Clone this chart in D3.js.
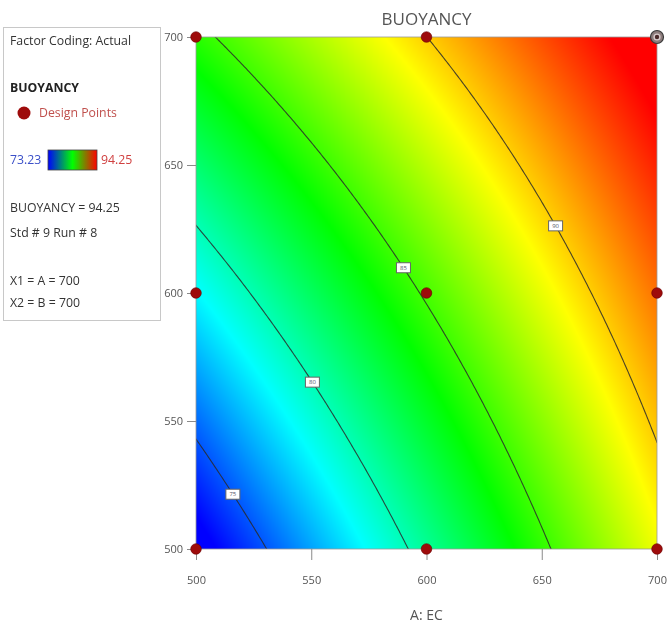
<!DOCTYPE html>
<html>
<head>
<meta charset="utf-8">
<script src="https://cdn.jsdelivr.net/npm/d3@7"></script>
<style>
  html, body { margin: 0; padding: 0; background: #fff; }
  #wrap { position: relative; width: 668px; height: 626px; overflow: hidden; }
  #wrap canvas, #wrap svg { position: absolute; left: 0; top: 0; }
  text { font-family: "Open Sans", "Noto Sans", sans-serif; }
</style>
</head>
<body>
<div id="wrap"></div>
<script>
// ---------------- data ----------------
const chartTitle = "BUOYANCY";
const xTitle = "A: EC";
const xTicks = [500, 550, 600, 650, 700];
const yTicks = [500, 550, 600, 650, 700];
const factorRange = [500, 700];
// quadratic model in coded units
const coefNames = ["Intercept", "A", "B", "AB", "A2", "B2"];
const coefValues = [85.2, 6.75, 4.675, -1.35, -0.05, 0.115];
const legendRange = [73.23, 94.25];
const contourLevels = [75, 80, 85, 90];
const contourLabelA = [516, 550.5, 590, 656];
const designA = [500, 600, 700, 500, 600, 700, 500, 600, 700];
const designB = [500, 500, 500, 600, 600, 600, 700, 700, 700];
const selectedPoint = [700, 700];
const legendLines = ["BUOYANCY = 94.25", "Std # 9 Run # 8", "X1 = A = 700", "X2 = B = 700"];

// ---------------- layout ----------------
const W = 668, H = 626;
const plot = { left: 196, top: 37, right: 657, bottom: 549 };
const pw = plot.right - plot.left, ph = plot.bottom - plot.top;

const x = d3.scaleLinear().domain(factorRange).range([plot.left, plot.right]);
const y = d3.scaleLinear().domain(factorRange).range([plot.bottom, plot.top]);

const mid = (factorRange[0] + factorRange[1]) / 2, half = (factorRange[1] - factorRange[0]) / 2;
function model(A, B) {
  const a = (A - mid) / half, b = (B - mid) / half;
  const c = coefValues;
  return c[0] + c[1] * a + c[2] * b + c[3] * a * b + c[4] * a * a + c[5] * b * b;
}

const lo = legendRange[0], hi = legendRange[1], st = (hi - lo) / 4;
const color = d3.scaleLinear()
  .domain([lo, lo + st, lo + 2 * st, lo + 3 * st, hi])
  .range(["#0000ff", "#00ffff", "#00ff00", "#ffff00", "#ff0000"])
  .clamp(true);

const wrap = d3.select("#wrap");

// ---------- filled surface on canvas ----------
const canvas = wrap.append("canvas").attr("width", W).attr("height", H).node();
const ctx = canvas.getContext("2d");
ctx.fillStyle = "#fff"; ctx.fillRect(0, 0, W, H);
const img = ctx.createImageData(pw, ph);
for (let py = 0; py < ph; py++) {
  const B = y.invert(plot.top + py + 0.5);
  for (let px = 0; px < pw; px++) {
    const A = x.invert(plot.left + px + 0.5);
    const c = d3.rgb(color(model(A, B)));
    const k = (py * pw + px) * 4;
    img.data[k] = c.r; img.data[k + 1] = c.g; img.data[k + 2] = c.b; img.data[k + 3] = 255;
  }
}
ctx.putImageData(img, plot.left, plot.top);

// ---------- svg overlay ----------
const svg = wrap.append("svg").attr("width", W).attr("height", H);
const defs = svg.append("defs");
defs.append("clipPath").attr("id", "clip")
  .append("rect").attr("x", plot.left).attr("y", plot.top).attr("width", pw).attr("height", ph);

// contour lines
const nx = 201, ny = 201;
const grid = new Array(nx * ny);
const gA = d3.scaleLinear().domain([0, nx - 1]).range(factorRange);
const gB = d3.scaleLinear().domain([0, ny - 1]).range(factorRange);
for (let j = 0; j < ny; j++) for (let i = 0; i < nx; i++) grid[j * nx + i] = model(gA(i), gB(j));
const contours = d3.contours().size([nx, ny]).thresholds(contourLevels)(grid);
const proj = d3.geoTransform({
  point: function (gx, gy) { this.stream.point(x(gA(gx - 0.5)), y(gB(gy - 0.5))); }
});
const path = d3.geoPath(proj);
svg.append("g").attr("clip-path", "url(#clip)")
  .selectAll("path").data(contours).join("path")
  .attr("d", path).attr("fill", "none")
  .attr("stroke", "#2a2a2a").attr("stroke-opacity", 0.85).attr("stroke-width", 1.1);

// contour labels
function solveB(A, level) {
  let l = factorRange[0], h = factorRange[1];
  for (let k = 0; k < 50; k++) { const m = (l + h) / 2; if (model(A, m) < level) l = m; else h = m; }
  return (l + h) / 2;
}
const lab = svg.append("g").selectAll("g").data(contourLevels).join("g")
  .attr("transform", (d, i) => `translate(${x(contourLabelA[i])},${y(solveB(contourLabelA[i], d))})`);
lab.append("rect").attr("x", -7).attr("y", -5).attr("width", 14).attr("height", 10)
  .attr("fill", "#fff").attr("stroke", "#666").attr("stroke-width", 1);
lab.append("text").attr("text-anchor", "middle").attr("dy", "0.35em")
  .attr("font-size", 6).attr("fill", "#556").text(d => d);

// plot border
svg.append("rect").attr("x", plot.left).attr("y", plot.top).attr("width", pw).attr("height", ph)
  .attr("fill", "none").attr("stroke", "#9a9a9a").attr("stroke-width", 0.8);

// axes
const xAxis = d3.axisBottom(x).tickValues(xTicks).tickSize(11).tickPadding(16);
const yAxis = d3.axisLeft(y).tickValues(yTicks).tickSize(9).tickPadding(4);
const gx = svg.append("g").attr("transform", `translate(0,${plot.bottom})`).call(xAxis);
const gy = svg.append("g").attr("transform", `translate(${plot.left},0)`).call(yAxis);
[gx, gy].forEach(g => {
  g.select(".domain").remove();
  g.selectAll(".tick line").attr("stroke", "#8a8a8a");
  g.selectAll(".tick text").attr("fill", "#555").attr("font-size", 11)
    .attr("font-family", "'Open Sans', 'Noto Sans', sans-serif");
});

// design points
svg.append("g").selectAll("circle").data(designA).join("circle")
  .attr("cx", (d) => x(d)).attr("cy", (d, i) => y(designB[i]))
  .attr("r", 5.3).attr("fill", "#9e0b0b").attr("stroke", "#6a0000").attr("stroke-width", 0.6);
// selected point
const sp = svg.append("g").attr("transform", `translate(${x(selectedPoint[0])},${y(selectedPoint[1])})`);
sp.append("circle").attr("r", 6.5).attr("fill", "#8c7c7c").attr("stroke", "#3a3a3a").attr("stroke-width", 1.2);
sp.append("circle").attr("r", 3.6).attr("fill", "#d8cccc").attr("stroke", "none");
sp.append("circle").attr("r", 2.2).attr("fill", "#4a2a2a");

// titles
svg.append("text").attr("x", (plot.left + plot.right) / 2).attr("y", 25)
  .attr("text-anchor", "middle").attr("font-size", 17).attr("fill", "#555").text(chartTitle);
svg.append("text").attr("x", (plot.left + plot.right) / 2).attr("y", 620)
  .attr("text-anchor", "middle").attr("font-size", 14).attr("fill", "#555").text(xTitle);

// legend box
const fs = 12.3;
const lg = svg.append("g");
lg.append("rect").attr("x", 3.5).attr("y", 27.5).attr("width", 157).attr("height", 293)
  .attr("fill", "#fff").attr("stroke", "#c8c8c8").attr("stroke-width", 1);
lg.append("text").attr("x", 10).attr("y", 45).attr("font-size", fs).attr("fill", "#333").text("Factor Coding: Actual");
lg.append("text").attr("x", 10).attr("y", 92).attr("font-size", fs).attr("font-weight", "bold").attr("fill", "#222").text(chartTitle);
lg.append("circle").attr("cx", 24).attr("cy", 113).attr("r", 6.5).attr("fill", "#9e0b0b");
lg.append("text").attr("x", 39).attr("y", 117).attr("font-size", fs).attr("fill", "#c0504d").text("Design Points");
const grad = defs.append("linearGradient").attr("id", "lgGrad");
grad.selectAll("stop").data([["0%", "#0000ff"], ["50%", "#00ff00"], ["100%", "#ff0000"]]).join("stop")
  .attr("offset", d => d[0]).attr("stop-color", d => d[1]);
lg.append("text").attr("x", 10).attr("y", 164).attr("font-size", fs).attr("fill", "#3a4fc8").text(d3.format(".2f")(legendRange[0]));
lg.append("rect").attr("x", 48).attr("y", 150).attr("width", 49).attr("height", 20)
  .attr("fill", "url(#lgGrad)").attr("stroke", "#444").attr("stroke-width", 0.8);
lg.append("text").attr("x", 101).attr("y", 164).attr("font-size", fs).attr("fill", "#d04040").text(d3.format(".2f")(legendRange[1]));
const lineY = [212, 237, 285, 307];
lg.selectAll("text.info").data(legendLines).join("text").attr("class", "info")
  .attr("x", 10).attr("y", (d, i) => lineY[i]).attr("font-size", fs).attr("fill", "#333").text(d => d);
</script>
</body>
</html>
